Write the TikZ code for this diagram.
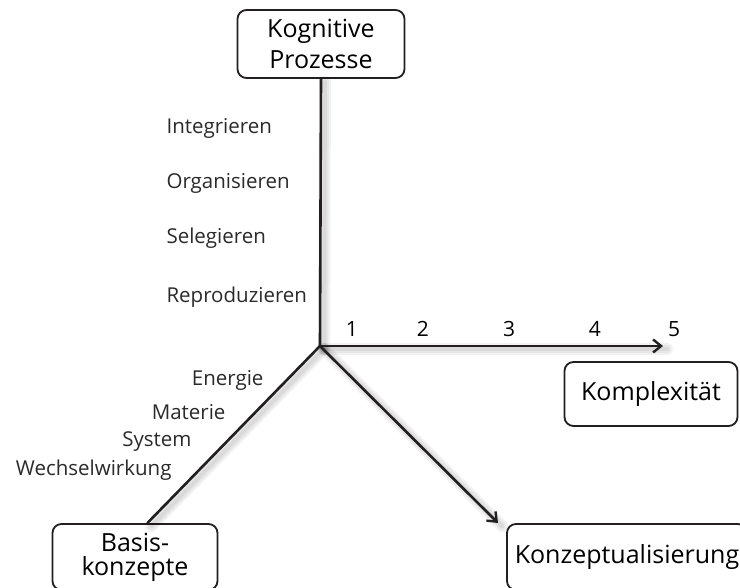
\documentclass[tikz,border=0pt]{standalone}
\usepackage{fontspec}
\setmainfont{Open Sans}
\usetikzlibrary{arrows.meta,positioning}
\definecolor{axisgray}{HTML}{231F20}
\definecolor{labelgray}{HTML}{2A2A2A}

\begin{document}
\begin{tikzpicture}[
  x=1pt,y=-1pt,
  font=\fontsize{20.5}{25}\selectfont,
  box/.style={draw=axisgray,line width=1.8pt,rounded corners=9pt,align=center,
              font=\fontsize{25}{31}\selectfont,inner sep=0pt},
  axis/.style={draw=axisgray,line width=2.6pt},
  arrow/.style={axis,-{Straight Barb[length=8pt,width=13pt,line width=2.4pt]}},
  halo/.style={draw=black,opacity=0.05,line cap=round},
  lbl/.style={text=labelgray},
  num/.style={text=black,font=\fontsize{21}{25}\selectfont}
]
\path[use as bounding box,clip] (0,0) rectangle (740,588);

\coordinate (o) at (320,346);
\node[box,minimum width=167pt,minimum height=68pt] (kp) at (321,44) {Kognitive\\Prozesse};
\node[box,minimum width=173pt,minimum height=64pt] (kx) at (651,394) {Komplexität};
\node[box,minimum width=165pt,minimum height=66pt,font=\fontsize{25}{24}\selectfont] (bk) at (135,557) {Basis-\\konzepte};
\node[box,minimum width=240pt,minimum height=66pt] (kz) at (627,557) {Konzeptualisierung};
\coordinate (xend) at (663,346);
\coordinate (dend) at (498,523);

% soft shadow under the axes
\foreach \w in {12,8,4} {
  \draw[halo,line width=\w pt] ([xshift=4pt,yshift=-3pt]o) -- ([xshift=4pt,yshift=-3pt]kp.south);
  \draw[halo,line width=\w pt] ([xshift=4pt,yshift=-3pt]o) -- ([xshift=4pt,yshift=-3pt]xend);
  \draw[halo,line width=\w pt] ([xshift=4pt,yshift=-3pt]o) -- ([xshift=4pt,yshift=-3pt]dend);
  \draw[halo,line width=\w pt] ([xshift=4pt,yshift=-3pt]o) -- ([xshift=4pt,yshift=-3pt]bk.70);
}

\draw[axis] (o) -- (kp.south);
\draw[axis] (o) -- (bk.70);
\draw[arrow] (o) -- (xend);
\draw[arrow] (o) -- (dend);

\foreach \t/\y in {Integrieren/128,Organisieren/183,Selegieren/238,Reproduzieren/297}
  \node[lbl,anchor=west] (\t) at (163,\y) {\t};

\foreach \t/\x/\y in {Energie/267/380,Materie/229/412,System/195/442,Wechselwirkung/175/470}
  \node[lbl,anchor=east] (\t) at (\x,\y) {\t};

\foreach \n/\x in {1/352,2/423,3/509,4/595,5/674}
  \node[num] (n\n) at (\x,329) {\n};
\end{tikzpicture}
\end{document}
